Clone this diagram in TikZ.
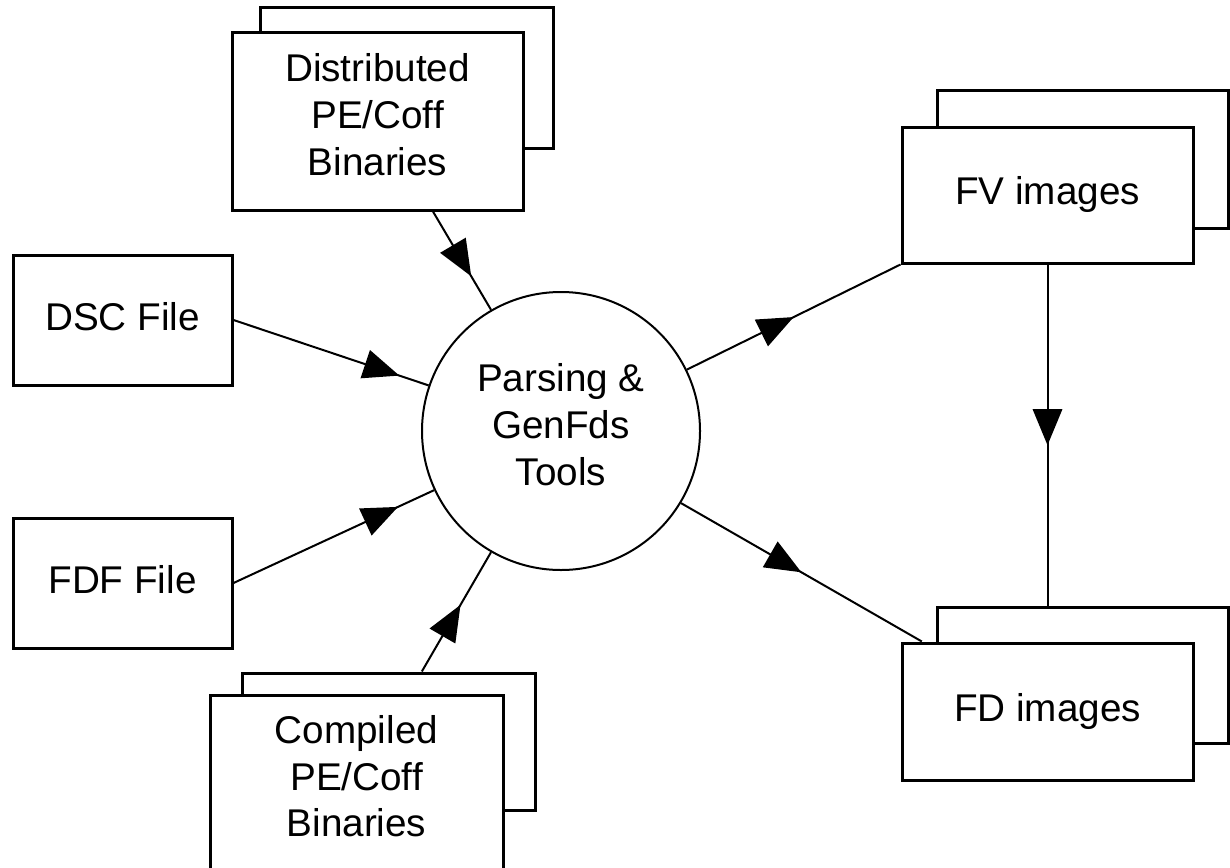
\documentclass[tikz,border=0pt]{standalone}
\usepackage{fontspec}
\setmainfont{Liberation Sans}
\usetikzlibrary{arrows.meta,decorations.markings}

\tikzset{every picture/.style={line width=0.75pt}}
\tikzset{
  box/.style={draw, line width=2.25pt, fill=white, inner sep=0pt, align=center, font=\fontsize{29}{35}\selectfont},
  tool/.style={draw, circle, line width=1.5pt, fill=white, inner sep=0pt, align=center, font=\fontsize{29}{35}\selectfont},
  flow/.style={line width=1.5pt, postaction={decorate},
    decoration={markings, mark=at position #1 with {\arrow{Triangle[length=27pt,width=22pt]}}}},
}

\begin{document}
\begin{tikzpicture}[x=0.75pt,y=0.75pt,yscale=-1,xscale=1]
  \useasboundingbox (0,0) rectangle (1230,867);
  \clip (0,0) rectangle (1230,867);

  %Back sheets
  \node [box, minimum width=219.75pt, minimum height=105pt] (distback) at (406.5,78) {};
  \node [box, minimum width=219.75pt, minimum height=102.75pt] (compback) at (388.5,741.5) {};
  \node [box, minimum width=218.25pt, minimum height=103.5pt] (fvback) at (1082.5,159) {};
  \node [box, minimum width=218.25pt, minimum height=102pt] (fdback) at (1082.5,675) {};

  %Front sheets and files
  \node [box, minimum width=218.25pt, minimum height=132.75pt, text depth=10.5pt] (dist) at (377.5,121.5) {Distributed\\PE/Coff\\Binaries};
  \node [box, minimum width=219.75pt, minimum height=138.75pt, text depth=17pt] (comp) at (356.5,787.5) {Compiled\\PE/Coff\\Binaries};
  \node [box, minimum width=164.25pt, minimum height=97.5pt, text depth=6pt] (dsc) at (122.5,320) {DSC File};
  \node [box, minimum width=164.25pt, minimum height=97.5pt, text depth=6pt] (fdf) at (122.5,583) {FDF File};
  \node [box, minimum width=218.25pt, minimum height=102pt] (fv) at (1047.5,195) {FV images};
  \node [box, minimum width=218.25pt, minimum height=102.75pt] (fd) at (1047.5,711.5) {FD images};

  %Tools
  \node [tool, minimum size=208.5pt, text depth=10pt] (tools) at (561,431) {Parsing \&\\GenFds\\Tools};

  %Inputs
  \draw [flow=0.85] (dsc.east) -- (tools.161);
  \draw [flow=0.82] (fdf.east) -- (tools.205);
  \draw [flow=0.66] ([xshift=41.6pt]dist.south) -- (tools.120);
  \draw [flow=0.56] ([xshift=25pt]compback.north) -- (tools.240);

  %Outputs
  \draw [flow=0.5] (tools.26) -- (fv.south west);
  \draw [flow=0.5] (tools.329) -- ([xshift=16pt]fd.north west);
  \draw [flow=0.53] (fv.south) -- (fv.south |- fdback.north);

\end{tikzpicture}
\end{document}
